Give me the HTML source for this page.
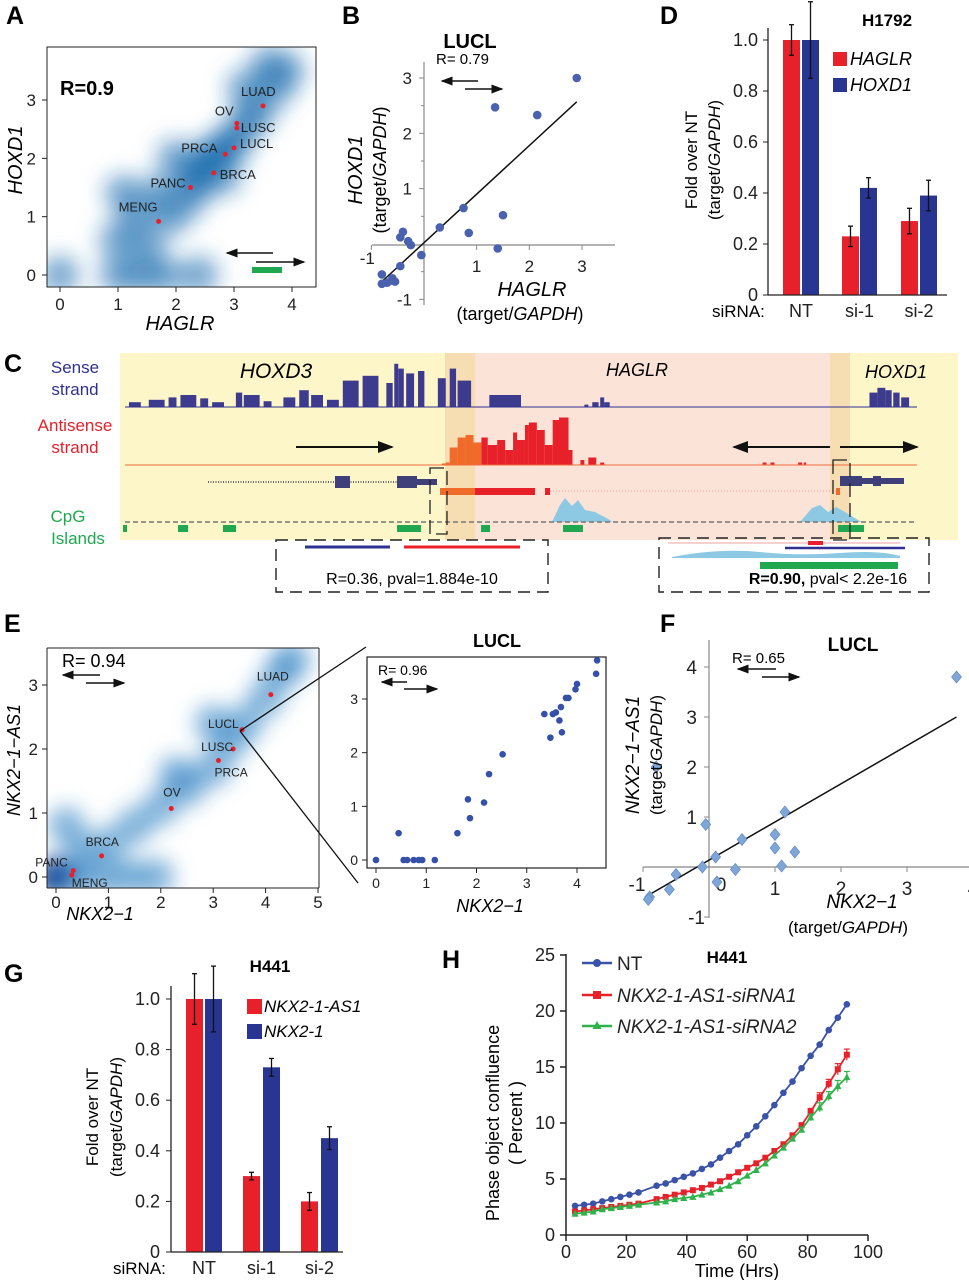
<!DOCTYPE html>
<html><head><meta charset="utf-8">
<style>
html,body{margin:0;padding:0;background:#fff;}
svg{display:block;font-family:"Liberation Sans",Arial,sans-serif;}
.pl{font-weight:bold;font-size:25px;}
.it{font-style:italic;}
</style></head>
<body>
<svg id="fig" width="969" height="1280" viewBox="0 0 969 1280" xmlns="http://www.w3.org/2000/svg">
<defs>
<filter id="blur" x="-50%" y="-50%" width="200%" height="200%"><feGaussianBlur stdDeviation="11"/></filter>
<filter id="blur2" x="-50%" y="-50%" width="200%" height="200%"><feGaussianBlur stdDeviation="10"/></filter>
<clipPath id="clipA"><rect x="47" y="47" width="269" height="240"/></clipPath>
<clipPath id="clipE"><rect x="47" y="648" width="272" height="240"/></clipPath>
<marker id="ah" markerWidth="8" markerHeight="8" refX="7" refY="4" orient="auto"><path d="M0,1 L8,4 L0,7 z" fill="#111"/></marker>
</defs>

<text class="pl" x="6" y="24">A</text>
<text class="pl" x="342" y="24">B</text>
<text class="pl" x="660" y="24">D</text>
<text class="pl" x="4" y="372">C</text>
<text class="pl" x="4" y="632">E</text>
<text class="pl" x="660" y="632">F</text>
<text class="pl" x="4" y="982">G</text>
<text class="pl" x="442" y="968">H</text>

<g id="pA">
  <g id="aBlobs" clip-path="url(#clipA)" filter="url(#blur)"></g>
  <rect x="47" y="47" width="269" height="240" fill="none" stroke="#222" stroke-width="1"/>
  <g id="aTicks"></g>
  <g id="aPts"></g>
  <text x="60" y="95" font-size="20" font-weight="bold">R=0.9</text>
  <line x1="273" y1="253" x2="227" y2="253" stroke="#111" stroke-width="1.5" marker-end="url(#ah)"/>
  <line x1="256" y1="262" x2="304" y2="262" stroke="#111" stroke-width="1.5" marker-end="url(#ah)"/>
  <rect x="252" y="267" width="30" height="6" fill="#1fa84f"/>
  <text class="it" x="180" y="330" font-size="20" text-anchor="middle">HAGLR</text>
  <text class="it" x="0" y="0" font-size="20" text-anchor="middle" transform="translate(22,160) rotate(-90)">HOXD1</text>
</g>

<g id="pB">
  <text x="470" y="48" font-size="20" font-weight="bold" text-anchor="middle">LUCL</text>
  <line x1="424" y1="62" x2="424" y2="305" stroke="#888" stroke-width="1.2"/>
  <line x1="372" y1="245" x2="615" y2="245" stroke="#888" stroke-width="1.2"/>
  <g id="bTicks"></g>
  <g id="bPts"></g>
  <text x="436" y="64" font-size="15">R= 0.79</text>
  <line x1="478" y1="81" x2="442" y2="81" stroke="#111" stroke-width="1.5" marker-end="url(#ah)"/>
  <line x1="465" y1="89" x2="502" y2="89" stroke="#111" stroke-width="1.5" marker-end="url(#ah)"/>
  <text class="it" x="532" y="296" font-size="20" text-anchor="middle">HAGLR</text>
  <text x="520" y="320" font-size="18" text-anchor="middle">(target/<tspan class="it">GAPDH</tspan>)</text>
  <text class="it" x="0" y="0" font-size="20" text-anchor="middle" transform="translate(362,170) rotate(-90)">HOXD1</text>
  <text x="0" y="0" font-size="18" text-anchor="middle" transform="translate(386,170) rotate(-90)">(target/<tspan class="it">GAPDH</tspan>)</text>
</g>

<g id="pD">
  <text x="887" y="26" font-size="17" font-weight="bold" text-anchor="middle">H1792</text>
  <g id="dBars"></g>
  <line x1="768" y1="28" x2="768" y2="295" stroke="#222" stroke-width="1.3"/>
  <line x1="768" y1="295" x2="947" y2="295" stroke="#222" stroke-width="1.3"/>
  <rect x="833" y="52" width="14" height="14" fill="#e8202a"/>
  <text class="it" x="850" y="65" font-size="18">HAGLR</text>
  <rect x="833" y="78" width="14" height="14" fill="#283593"/>
  <text class="it" x="850" y="91" font-size="18">HOXD1</text>
  <text x="0" y="0" font-size="17" text-anchor="middle" transform="translate(697,160) rotate(-90)">Fold over NT</text>
  <text x="0" y="0" font-size="17" text-anchor="middle" transform="translate(720,160) rotate(-90)">(target/<tspan class="it">GAPDH</tspan>)</text>
  <text x="712" y="317" font-size="17">siRNA:</text>
</g>

<g id="pC">
  <rect x="120" y="353" width="838" height="187" fill="#fdf6c8"/>
  <rect x="445" y="353" width="405" height="187" fill="#fbe3d8"/>
  <rect x="445" y="353" width="30" height="187" fill="#f7ddb2"/>
  <rect x="830" y="353" width="20" height="187" fill="#f7ddb2"/>
  <text x="75" y="373" font-size="17" fill="#2e3192" text-anchor="middle">Sense</text>
  <text x="75" y="395" font-size="17" fill="#2e3192" text-anchor="middle">strand</text>
  <text x="75" y="431" font-size="17" fill="#e8202a" text-anchor="middle">Antisense</text>
  <text x="75" y="453" font-size="17" fill="#e8202a" text-anchor="middle">strand</text>
  <text x="68" y="522" font-size="17" fill="#1fa84f" text-anchor="middle">CpG</text>
  <text x="78" y="544" font-size="17" fill="#1fa84f" text-anchor="middle">Islands</text>
  <text class="it" x="276" y="378" font-size="21" text-anchor="middle">HOXD3</text>
  <text class="it" x="637" y="376" font-size="18" text-anchor="middle">HAGLR</text>
  <text class="it" x="896" y="378" font-size="18" text-anchor="middle">HOXD1</text>
  <g id="cTracks"></g>
  <line x1="125" y1="407" x2="917" y2="407" stroke="#2e3192" stroke-width="1"/>
  <line x1="125" y1="465" x2="917" y2="465" stroke="#f06a3a" stroke-width="1"/>
  <line x1="125" y1="522" x2="917" y2="522" stroke="#777" stroke-width="1.5" stroke-dasharray="5 3"/>
  <line x1="296" y1="447" x2="392" y2="447" stroke="#111" stroke-width="2" marker-end="url(#ah)"/>
  <line x1="830" y1="447" x2="734" y2="447" stroke="#111" stroke-width="2" marker-end="url(#ah)"/>
  <line x1="840" y1="447" x2="917" y2="447" stroke="#111" stroke-width="2" marker-end="url(#ah)"/>
  <line x1="208" y1="482" x2="437" y2="482" stroke="#666" stroke-width="2" stroke-dasharray="1 1.5"/>
  <rect x="335" y="476" width="15" height="12" fill="#3f3f7a"/>
  <rect x="397" y="476" width="20" height="12" fill="#3f3f7a"/>
  <rect x="417" y="479" width="20" height="6" fill="#3f3f7a"/>
  <rect x="440" y="488" width="35" height="7" fill="#f06a2a"/>
  <rect x="475" y="488" width="60" height="7" fill="#e8202a"/>
  <rect x="545" y="488" width="5" height="7" fill="#e8202a"/>
  <line x1="550" y1="491" x2="840" y2="491" stroke="#f3a0a0" stroke-width="1" stroke-dasharray="1 2"/>
  <rect x="840" y="476" width="22" height="10" fill="#3f3f7a"/>
  <rect x="873" y="476" width="8" height="10" fill="#3f3f7a"/>
  <rect x="862" y="478" width="42" height="6" fill="#3f3f7a"/>
  <rect x="836" y="488" width="4" height="7" fill="#f06a2a"/>
  <rect x="430" y="468" width="17" height="66" fill="none" stroke="#222" stroke-width="1.3" stroke-dasharray="14 6"/>
  <rect x="833" y="460" width="17" height="80" fill="none" stroke="#222" stroke-width="1.3" stroke-dasharray="14 6"/>
  <rect x="276" y="540" width="272" height="52" fill="none" stroke="#222" stroke-width="1.4" stroke-dasharray="12 7"/>
  <line x1="305" y1="547" x2="390" y2="547" stroke="#2e3192" stroke-width="3"/>
  <line x1="404" y1="547" x2="520" y2="547" stroke="#e8202a" stroke-width="3"/>
  <text x="412" y="584" font-size="16" text-anchor="middle">R=0.36, pval=1.884e-10</text>
  <rect x="659" y="538" width="270" height="54" fill="none" stroke="#222" stroke-width="1.4" stroke-dasharray="12 7"/>
  <line x1="668" y1="543" x2="900" y2="543" stroke="#f3a0a0" stroke-width="1"/>
  <rect x="808" y="541" width="15" height="4" fill="#e8202a"/>
  <line x1="785" y1="548" x2="905" y2="548" stroke="#2e3192" stroke-width="2.5"/>
  <path d="M672,557 Q720,548 760,552 T840,553 T900,556 L900,558 L672,558 z" fill="#8ec9e4"/>
  <rect x="760" y="562" width="138" height="7" fill="#1fa84f"/>
  <text x="828" y="584" font-size="16" text-anchor="middle"><tspan font-weight="bold">R=0.90,</tspan> pval&lt; 2.2e-16</text>
</g>

<g id="pE">
  <g id="eBlobs" clip-path="url(#clipE)" filter="url(#blur2)"></g>
  <line x1="47" y1="648" x2="319" y2="648" stroke="#222"/>
  <line x1="47" y1="648" x2="47" y2="888" stroke="#222"/>
  <line x1="47" y1="888" x2="319" y2="888" stroke="#222"/>
  <line x1="319" y1="648" x2="319" y2="888" stroke="#222"/>
  <g id="eTicks"></g>
  <g id="ePts"></g>
  <text x="62" y="667" font-size="18">R= 0.94</text>
  <line x1="100" y1="675" x2="63" y2="675" stroke="#111" stroke-width="1.5" marker-end="url(#ah)"/>
  <line x1="86" y1="683" x2="124" y2="683" stroke="#111" stroke-width="1.5" marker-end="url(#ah)"/>
  <text class="it" x="100" y="920" font-size="18" text-anchor="middle">NKX2−1</text>
  <text class="it" x="0" y="0" font-size="18" text-anchor="middle" transform="translate(20,760) rotate(-90)">NKX2−1−AS1</text>
  <line x1="240" y1="731" x2="366" y2="647" stroke="#111" stroke-width="1.3"/>
  <line x1="240" y1="731" x2="358" y2="883" stroke="#111" stroke-width="1.3"/>
  <text x="497" y="647" font-size="18" font-weight="bold" text-anchor="middle">LUCL</text>
  <rect x="367" y="657" width="239" height="211" fill="#fff" stroke="#222" stroke-width="1.2"/>
  <g id="iTicks"></g>
  <g id="iPts"></g>
  <text x="378" y="675" font-size="14">R= 0.96</text>
  <line x1="407" y1="682" x2="382" y2="682" stroke="#111" stroke-width="1.5" marker-end="url(#ah)"/>
  <line x1="404" y1="689" x2="437" y2="689" stroke="#111" stroke-width="1.5" marker-end="url(#ah)"/>
  <text class="it" x="490" y="912" font-size="18" text-anchor="middle">NKX2−1</text>
</g>

<g id="pF">
  <text x="853" y="651" font-size="19" font-weight="bold" text-anchor="middle">LUCL</text>
  <line x1="709" y1="640" x2="709" y2="918" stroke="#888" stroke-width="1.2"/>
  <line x1="643" y1="867" x2="975" y2="867" stroke="#888" stroke-width="1.2"/>
  <g id="fTicks"></g>
  <g id="fPts"></g>
  <text x="732" y="663" font-size="15">R= 0.65</text>
  <line x1="776" y1="669" x2="738" y2="669" stroke="#111" stroke-width="1.5" marker-end="url(#ah)"/>
  <line x1="762" y1="677" x2="799" y2="677" stroke="#111" stroke-width="1.5" marker-end="url(#ah)"/>
  <text class="it" x="862" y="908" font-size="19" text-anchor="middle">NKX2−1</text>
  <text x="848" y="933" font-size="17" text-anchor="middle">(target/<tspan class="it">GAPDH</tspan>)</text>
  <text class="it" x="0" y="0" font-size="19" text-anchor="middle" transform="translate(639,755) rotate(-90)">NKX2−1−AS1</text>
  <text x="0" y="0" font-size="17" text-anchor="middle" transform="translate(662,755) rotate(-90)">(target/<tspan class="it">GAPDH</tspan>)</text>
</g>

<g id="pG">
  <text x="270" y="972" font-size="17" font-weight="bold" text-anchor="middle">H441</text>
  <g id="gBars"></g>
  <line x1="171" y1="986" x2="171" y2="1252" stroke="#222" stroke-width="1.3"/>
  <line x1="171" y1="1252" x2="343" y2="1252" stroke="#222" stroke-width="1.3"/>
  <rect x="247" y="999" width="15" height="15" fill="#e8202a"/>
  <text class="it" x="264" y="1012" font-size="17">NKX2-1-AS1</text>
  <rect x="247" y="1024" width="15" height="15" fill="#283593"/>
  <text class="it" x="264" y="1037" font-size="17">NKX2-1</text>
  <text x="0" y="0" font-size="17" text-anchor="middle" transform="translate(98,1117) rotate(-90)">Fold over NT</text>
  <text x="0" y="0" font-size="17" text-anchor="middle" transform="translate(122,1117) rotate(-90)">(target/<tspan class="it">GAPDH</tspan>)</text>
  <text x="113" y="1274" font-size="17">siRNA:</text>
</g>

<g id="pH">
  <text x="727" y="963" font-size="17" font-weight="bold" text-anchor="middle">H441</text>
  <line x1="566" y1="954" x2="566" y2="1235" stroke="#222" stroke-width="1.5"/>
  <line x1="566" y1="1235" x2="868" y2="1235" stroke="#222" stroke-width="1.5"/>
  <g id="hTicks"></g>
  <g id="hLines"></g>
  <text x="737" y="1277" font-size="18" text-anchor="middle">Time (Hrs)</text>
  <text x="0" y="0" font-size="18" text-anchor="middle" transform="translate(499,1123) rotate(-90)">Phase object confluence</text>
  <text x="0" y="0" font-size="18" text-anchor="middle" transform="translate(522,1123) rotate(-90)">( Percent )</text>
  <g id="hLegend"></g>
</g>
</svg>

<script>
var aLabels = ["LUAD","OV","LUSC","LUCL","PRCA","BRCA","PANC","MENG"];
var aX = [3.5,3.05,3.05,3.0,2.85,2.65,2.25,1.7];
var aY = [2.9,2.6,2.52,2.18,2.07,1.75,1.5,0.92];
var aBlobX = [0,1,1.4,1.8,2.4,1.0,1.5,1.3,1.9,1.7,2.2,2.3,2.6,2.8,3.0,3.2,3.4,3.7,3.9,3.6,1.1,2.0,3.2,2.5,2.9,2.7,2.4];
var aBlobY = [0,0,0,0,0,0.6,0.5,1.0,1.0,1.4,1.3,1.7,2.0,1.7,2.3,2.6,2.8,3.2,3.5,3.6,1.4,2.0,3.2,1.9,2.2,2.1,1.6];
var aTicks = [0,1,2,3,4];
var bX = [2.9,1.35,2.15,1.5,0.75,0.85,0.3,1.4,-0.4,-0.45,-0.3,-0.25,-0.05,-0.45,-0.8,-0.8,-0.6,-0.55,-0.7,-0.62];
var bY = [3.0,2.47,2.33,0.52,0.65,0.2,0.3,-0.08,0.22,0.12,0.05,-0.02,-0.2,-0.4,-0.55,-0.72,-0.62,-0.68,-0.7,-0.66];
var bFit = [-0.8,-0.68,2.9,2.57];
var bTicks = [-1,1,2,3];
var barCats = ["NT","si-1","si-2"];
var dHAGLR = [1.0,0.23,0.29];
var dHAGLRerr = [0.06,0.04,0.05];
var dHOXD1 = [1.0,0.42,0.39];
var dHOXD1err = [0.15,0.04,0.06];
var dTicks = ["0","0.2","0.4","0.6","0.8","1.0"];
var gAS1 = [1.0,0.30,0.20];
var gAS1err = [0.10,0.015,0.035];
var gNKX = [1.0,0.73,0.45];
var gNKXerr = [0.13,0.035,0.045];
var eLabels = ["LUAD","LUCL","LUSC","PRCA","OV","BRCA","PANC","MENG"];
var eX = [4.1,3.55,3.38,3.1,2.2,0.87,0.33,0.3];
var eY = [2.85,2.3,2.0,1.82,1.07,0.33,0.1,0.03];
var eBlobX = [0,0,0.4,0.9,1.4,1.9,0.5,1.0,1.5,2.0,2.5,3.0,3.3,3.6,4.0,4.3,4.5,2.3,3.0,0.2];
var eBlobY = [0,0,0,0,0,0,0.4,0.5,0.8,1.1,1.4,1.7,2.1,2.4,2.8,3.2,3.4,1.6,2.4,0.8];
var iX = [0,0.45,0.55,0.62,0.75,0.85,0.92,1.17,1.62,1.83,1.87,2.15,2.25,2.52,3.35,3.47,3.52,3.58,3.65,3.68,3.7,3.78,3.83,3.97,4.0,4.38,4.4];
var iY = [0,0.5,0,0,0,0,0,0,0.5,1.13,0.78,1.07,1.6,1.97,2.72,2.28,2.72,2.75,2.6,2.85,2.38,3.02,3.02,3.18,3.28,3.47,3.72];
var fX = [3.75,-0.8,-0.05,1.15,1.0,1.0,1.3,1.1,0.5,0.4,0.1,0.12,-0.1,-0.5,-0.6,-0.9,-0.92];
var fY = [3.8,2.0,0.85,1.1,0.65,0.38,0.3,0.02,0.55,-0.05,0.2,-0.3,0.0,-0.15,-0.45,-0.6,-0.65];
var fFit = [-0.9,-0.55,3.75,3.0];
var fTicks = [-1,0,1,2,3,4];
var hTime = [3,6,9,12,15,18,21,24,30,33,36,39,42,45,48,51,54,57,60,63,66,69,72,75,78,81,84,87,90,93];
var hNT = [2.6,2.7,2.8,3.0,3.2,3.4,3.6,3.8,4.4,4.6,4.9,5.2,5.5,5.9,6.3,6.9,7.5,8.1,8.9,9.7,10.6,11.6,12.7,13.7,14.9,16.0,17.0,18.3,19.4,20.6];
var hSi1 = [2.1,2.2,2.3,2.4,2.5,2.6,2.7,2.8,3.2,3.4,3.6,3.8,4.0,4.2,4.5,4.8,5.2,5.6,6.0,6.4,6.9,7.5,8.1,8.9,9.8,11.0,12.3,13.5,14.8,16.1];
var hSi2 = [1.9,2.0,2.1,2.3,2.4,2.5,2.6,2.7,2.9,3.0,3.2,3.3,3.4,3.6,3.8,4.1,4.4,4.8,5.3,5.8,6.4,7.1,7.8,8.6,9.4,10.5,11.4,12.4,13.3,14.1];
var hErrSi1 = [0,0,0,0,0,0,0,0,0,0,0,0,0,0,0,0,0,0,0,0,0,0,0,0,0.2,0.3,0.4,0.4,0.5,0.5];
var hErrSi2 = [0,0,0,0,0,0,0,0,0,0,0,0,0,0,0,0,0,0,0,0,0,0,0,0,0.2,0.3,0.4,0.4,0.5,0.5];
var hLegendNames = ["NT","NKX2-1-AS1-siRNA1","NKX2-1-AS1-siRNA2"];
var hXTicks = [0,20,40,60,80,100];
var hYTicks = [0,5,10,15,20,25];
var senseStart = [5,30,55,70,95,110,140,150,175,200,220,235,255,275,300,330,340,345,355,370,395,410,420,460,580,590,600,605,940,950,960,970,980];
var senseEnd   = [20,50,65,90,105,125,148,170,185,215,232,250,270,295,320,338,345,352,365,378,405,418,437,500,585,598,605,612,950,960,968,978,990];
var senseH     = [0.1,0.15,0.2,0.25,0.18,0.1,0.3,0.25,0.12,0.2,0.35,0.25,0.15,0.55,0.65,0.5,0.9,0.8,0.7,0.75,0.6,0.8,0.55,0.25,0.05,0.1,0.2,0.1,0.3,0.4,0.35,0.3,0.2];
var antiStart = [400,405,410,420,430,440,450,458,470,480,490,495,505,510,520,530,540,548,560,575,585,600,805,815,850,857];
var antiEnd   = [405,410,420,430,440,450,458,470,480,490,495,505,510,520,530,540,548,560,565,580,595,605,810,820,855,860];
var antiH     = [0.03,0.05,0.35,0.55,0.6,0.45,0.55,0.4,0.5,0.3,0.65,0.5,0.8,0.85,0.7,0.4,0.9,0.95,0.3,0.1,0.15,0.05,0.05,0.05,0.05,0.05];

var NS = "http://www.w3.org/2000/svg";
function mk(parent, tag, attrs, name, inter) {
  var el = document.createElementNS(NS, tag);
  for (var k in attrs) el.setAttribute(k, attrs[k]);
  
  
  document.getElementById(parent).appendChild(el);
  return el;
}
function txt(parent, x, y, s, size, anchor, name, extra) {
  var a = {x:x, y:y, "font-size":size, "text-anchor":anchor||"middle", fill:"#222"};
  if (extra) for (var k in extra) a[k] = extra[k];
  var el = mk(parent, "text", a, name, false);
  el.textContent = s;
  return el;
}
function lin(x0,x1,p0,p1){return function(v){return p0+(v-x0)*(p1-p0)/(x1-x0);};}

var ax = lin(0,4,60,292), ay = lin(0,3,275,100);
for (var i=0;i<aBlobX.length;i++) mk("aBlobs","circle",{cx:ax(aBlobX[i]),cy:ay(aBlobY[i]),r:19,fill:"#1f6fb0","fill-opacity":0.62},"density-blob",false);
for (var i=0;i<aTicks.length;i++){
  var t=aTicks[i];
  mk("aTicks","line",{x1:ax(t),x2:ax(t),y1:287,y2:292,stroke:"#222"},"x-tick",false);
  txt("aTicks",ax(t),310,String(t),17,"middle","x-tick-label");
  if (t<=3){ mk("aTicks","line",{x1:42,x2:47,y1:ay(t),y2:ay(t),stroke:"#222"},"y-tick",false);
  txt("aTicks",36,ay(t)+6,String(t),17,"end","y-tick-label"); }
}
var aOff = {"LUAD":[-22,-10],"OV":[-22,-8],"LUSC":[4,4],"LUCL":[6,0],"PRCA":[-44,-2],"BRCA":[6,6],"PANC":[-40,0],"MENG":[-40,-10]};
for (var i=0;i<aX.length;i++){
  mk("aPts","circle",{cx:ax(aX[i]),cy:ay(aY[i]),r:2.5,fill:"#e8202a"},"point-"+aLabels[i].toLowerCase(),false);
  var o=aOff[aLabels[i]];
  txt("aPts",ax(aX[i])+o[0],ay(aY[i])+o[1],aLabels[i],13,"start","label-"+aLabels[i].toLowerCase());
}

var bx = lin(0,3,424,582), by = lin(0,3,244,78);
for (var i=0;i<bTicks.length;i++){
  var t=bTicks[i];
  mk("bTicks","line",{x1:bx(t),x2:bx(t),y1:245,y2:250,stroke:"#888"},"x-tick",false);
  txt("bTicks", t<0?bx(t)-4:bx(t), t<0?264:272, String(t),17,"middle","x-tick-label");
  mk("bTicks","line",{x1:419,x2:424,y1:by(t),y2:by(t),stroke:"#888"},"y-tick",false);
  txt("bTicks",412,by(t)+6,String(t),17,"end","y-tick-label");
}
[0.5,1.5,2.5,-0.5].forEach(function(t){ mk("bTicks","line",{x1:421,x2:424,y1:by(t),y2:by(t),stroke:"#888"},"y-minor-tick",false); });
mk("bPts","line",{x1:bx(bFit[0]),y1:by(bFit[1]),x2:bx(bFit[2]),y2:by(bFit[3]),stroke:"#111","stroke-width":1.5},"regression-line",false);
for (var i=0;i<bX.length;i++) mk("bPts","circle",{cx:bx(bX[i]),cy:by(bY[i]),r:4.3,fill:"#4a62ae"},"data-point",false);

function bars(g, yz, y1, red, redE, blue, blueE, redX, blueX, w, tickX, labY, axisX, nameR, nameB){
  var y = lin(0,1,yz,y1);
  for (var i=0;i<dTicks.length;i++){
    var v=parseFloat(dTicks[i]);
    mk(g,"line",{x1:axisX-5,x2:axisX,y1:y(v),y2:y(v),stroke:"#222"},"y-tick",false);
    txt(g,tickX,y(v)+6,dTicks[i],18,"end","y-tick-label");
  }
  for (var i=0;i<barCats.length;i++){
    mk(g,"rect",{x:redX[i],y:y(red[i]),width:w,height:yz-y(red[i]),fill:"#e8202a"},nameR+"-bar-"+barCats[i].toLowerCase(),false);
    mk(g,"rect",{x:blueX[i],y:y(blue[i]),width:w,height:yz-y(blue[i]),fill:"#283593"},nameB+"-bar-"+barCats[i].toLowerCase(),false);
    [[redX[i],red[i],redE[i]],[blueX[i],blue[i],blueE[i]]].forEach(function(b){
      var cx=b[0]+w/2;
      mk(g,"line",{x1:cx,x2:cx,y1:y(b[1]+b[2]),y2:y(b[1]-b[2]),stroke:"#111","stroke-width":1.3},"error-bar",false);
      mk(g,"line",{x1:cx-2.5,x2:cx+2.5,y1:y(b[1]+b[2]),y2:y(b[1]+b[2]),stroke:"#111","stroke-width":1.3},"error-cap",false);
      mk(g,"line",{x1:cx-2.5,x2:cx+2.5,y1:y(b[1]-b[2]),y2:y(b[1]-b[2]),stroke:"#111","stroke-width":1.3},"error-cap",false);
    });
    txt(g,(redX[i]+blueX[i]+w)/2,labY,barCats[i],18,"middle","x-category-label");
  }
}
bars("dBars",295,40,dHAGLR,dHAGLRerr,dHOXD1,dHOXD1err,[783,842,901],[802,860,920],17,758,317,768,"haglr","hoxd1");
bars("gBars",1252,999,gAS1,gAS1err,gNKX,gNKXerr,[186,243,301],[205,263,321],17,160,1274,171,"nkx21as1","nkx21");

var gx = lin(0,1000,125,917);
for (var i=0;i<senseStart.length;i++){
  var h=senseH[i]*48;
  mk("cTracks","rect",{x:gx(senseStart[i]),y:407-h,width:gx(senseEnd[i])-gx(senseStart[i]),height:h,fill:"#3d3b8e"},"sense-peak",false);
}
for (var i=0;i<antiStart.length;i++){
  var h=antiH[i]*50;
  var col = antiStart[i]<448 ? "#f06a2a" : "#e8202a";
  mk("cTracks","rect",{x:gx(antiStart[i]),y:465-h,width:gx(antiEnd[i])-gx(antiStart[i]),height:h,fill:col},"antisense-peak",false);
}
mk("cTracks","path",{d:"M552,522 L560,505 L565,498 L572,506 L578,500 L585,510 L595,512 L610,520 L612,522 z",fill:"#8ec9e4"},"cpg-signal-haglr",false);
mk("cTracks","path",{d:"M800,522 L812,508 L820,505 L828,512 L836,507 L845,512 L858,520 L862,522 z",fill:"#8ec9e4"},"cpg-signal-hoxd1",false);
[[123,4],[178,10],[223,13],[397,24],[481,9],[563,20],[838,26]].forEach(function(c){
  mk("cTracks","rect",{x:c[0],y:525,width:c[1],height:7,fill:"#1fa84f"},"cpg-island",false);
});

var ex = lin(0,5,56,318), ey = lin(0,3,877,685);
for (var i=0;i<eBlobX.length;i++) mk("eBlobs","circle",{cx:ex(eBlobX[i]),cy:ey(eBlobY[i]),r:19,fill:i<2?"#0b3d91":"#2f82c2","fill-opacity":i<2?0.9:0.58},"density-blob",false);
for (var t=0;t<=5;t++){
  mk("eTicks","line",{x1:ex(t),x2:ex(t),y1:888,y2:893,stroke:"#222"},"x-tick",false);
  txt("eTicks",ex(t),908,String(t),17,"middle","x-tick-label");
  if (t<=3){ mk("eTicks","line",{x1:42,x2:47,y1:ey(t),y2:ey(t),stroke:"#222"},"y-tick",false);
  txt("eTicks",38,ey(t)+6,String(t),17,"end","y-tick-label"); }
}
var eOff = {"LUAD":[-14,-14],"LUCL":[-34,-2],"LUSC":[-32,2],"PRCA":[-4,16],"OV":[-8,-12],"BRCA":[-16,-10],"PANC":[-38,-4],"MENG":[0,12]};
for (var i=0;i<eX.length;i++){
  mk("ePts","circle",{cx:ex(eX[i]),cy:ey(eY[i]),r:2.5,fill:"#e8202a"},"point-"+eLabels[i].toLowerCase(),false);
  var o=eOff[eLabels[i]];
  txt("ePts",ex(eX[i])+o[0],ey(eY[i])+o[1],eLabels[i],12,"start","label-"+eLabels[i].toLowerCase());
}
var ix = lin(0,4,376,577), iy = lin(0,3,860,699);
for (var t=0;t<=4;t++){
  mk("iTicks","line",{x1:ix(t),x2:ix(t),y1:868,y2:873,stroke:"#222"},"inset-x-tick",false);
  txt("iTicks",ix(t),888,String(t),14,"middle","inset-x-tick-label");
  if (t<=3){ mk("iTicks","line",{x1:362,x2:367,y1:iy(t),y2:iy(t),stroke:"#222"},"inset-y-tick",false);
  txt("iTicks",358,iy(t)+5,String(t),14,"end","inset-y-tick-label"); }
}
for (var i=0;i<iX.length;i++) mk("iPts","circle",{cx:ix(iX[i]),cy:iy(iY[i]),r:3.3,fill:"#3450a8"},"inset-point",false);

var fx = lin(0,4,709,973), fy = lin(0,4,867,667);
for (var i=0;i<fTicks.length;i++){
  var t=fTicks[i];
  if (t!==0){ mk("fTicks","line",{x1:fx(t),x2:fx(t),y1:867,y2:872,stroke:"#888"},"x-tick",false); }
  txt("fTicks", t===0?fx(t)+12:(t<0?fx(t)-6:fx(t)), t<=0?891:895, String(t),19,"middle","x-tick-label");
  if (t!==0){ mk("fTicks","line",{x1:704,x2:709,y1:fy(t),y2:fy(t),stroke:"#888"},"y-tick",false);
  txt("fTicks",t<0?705:697,fy(t)+7,String(t),19,"end","y-tick-label"); }
}
mk("fPts","line",{x1:fx(fFit[0]),y1:fy(fFit[1]),x2:fx(fFit[2]),y2:fy(fFit[3]),stroke:"#111","stroke-width":1.5},"regression-line",false);
for (var i=0;i<fX.length;i++){
  var cx=fx(fX[i]), cy=fy(fY[i]);
  mk("fPts","path",{d:"M"+cx+","+(cy-6)+" L"+(cx+5)+","+cy+" L"+cx+","+(cy+6)+" L"+(cx-5)+","+cy+" z",fill:"#7ea7d8",stroke:"#5d86c0","stroke-width":0.6},"data-point",false);
}

var hx = lin(0,100,566,868), hy = lin(0,25,1235,955);
for (var i=0;i<hXTicks.length;i++){
  var t=hXTicks[i];
  mk("hTicks","line",{x1:hx(t),x2:hx(t),y1:1235,y2:1241,stroke:"#222","stroke-width":1.5},"x-tick",false);
  txt("hTicks",hx(t),1258,String(t),18,"middle","x-tick-label");
}
for (var i=0;i<hYTicks.length;i++){
  var t=hYTicks[i];
  mk("hTicks","line",{x1:560,x2:566,y1:hy(t),y2:hy(t),stroke:"#222","stroke-width":1.5},"y-tick",false);
  txt("hTicks",555,hy(t)+6,String(t),18,"end","y-tick-label");
}
var hSeries = [hNT,hSi1,hSi2], hErrs=[null,hErrSi1,hErrSi2], hCols = ["#3a52a8","#e8202a","#2fb24a"], hKeys=["nt","sirna1","sirna2"];
for (var s=0;s<3;s++){
  var d="";
  for (var i=0;i<hTime.length;i++) d += (i?"L":"M")+hx(hTime[i])+","+hy(hSeries[s][i]);
  mk("hLines","path",{d:d,fill:"none",stroke:hCols[s],"stroke-width":1.8},"line-"+hKeys[s],false);
  for (var i=0;i<hTime.length;i++){
    var cx=hx(hTime[i]), cy=hy(hSeries[s][i]);
    if (hErrs[s] && hErrs[s][i]>0){
      var e=hErrs[s][i];
      mk("hLines","line",{x1:cx,x2:cx,y1:hy(hSeries[s][i]+e),y2:hy(hSeries[s][i]-e),stroke:hCols[s],"stroke-width":1.2},"error-bar-"+hKeys[s],false);
      mk("hLines","line",{x1:cx-3,x2:cx+3,y1:hy(hSeries[s][i]+e),y2:hy(hSeries[s][i]+e),stroke:hCols[s],"stroke-width":1.2},"error-cap-"+hKeys[s],false);
    }
    if (s===0) mk("hLines","circle",{cx:cx,cy:cy,r:3.3,fill:hCols[s]},"point-"+hKeys[s],false);
    else if (s===1) mk("hLines","rect",{x:cx-3,y:cy-3,width:6,height:6,fill:hCols[s]},"point-"+hKeys[s],false);
    else mk("hLines","path",{d:"M"+cx+","+(cy-4)+" L"+(cx+3.5)+","+(cy+3)+" L"+(cx-3.5)+","+(cy+3)+" z",fill:hCols[s]},"point-"+hKeys[s],false);
  }
}
var legY=[963,995,1026];
for (var s=0;s<3;s++){
  mk("hLegend","line",{x1:582,x2:612,y1:legY[s],y2:legY[s],stroke:hCols[s],"stroke-width":2.5},"legend-line-"+hKeys[s],false);
  if (s===0) mk("hLegend","circle",{cx:597,cy:legY[s],r:4,fill:hCols[s]},"legend-marker-"+hKeys[s],false);
  else if (s===1) mk("hLegend","rect",{x:593,y:legY[s]-4,width:8,height:8,fill:hCols[s]},"legend-marker-"+hKeys[s],false);
  else mk("hLegend","path",{d:"M597,"+(legY[s]-5)+" L601.5,"+(legY[s]+3)+" L592.5,"+(legY[s]+3)+" z",fill:hCols[s]},"legend-marker-"+hKeys[s],false);
  txt("hLegend",617,legY[s]+7,hLegendNames[s],19,"start","legend-label-"+hKeys[s],s?{"font-style":"italic"}:null);
}
</script>
</body></html>
